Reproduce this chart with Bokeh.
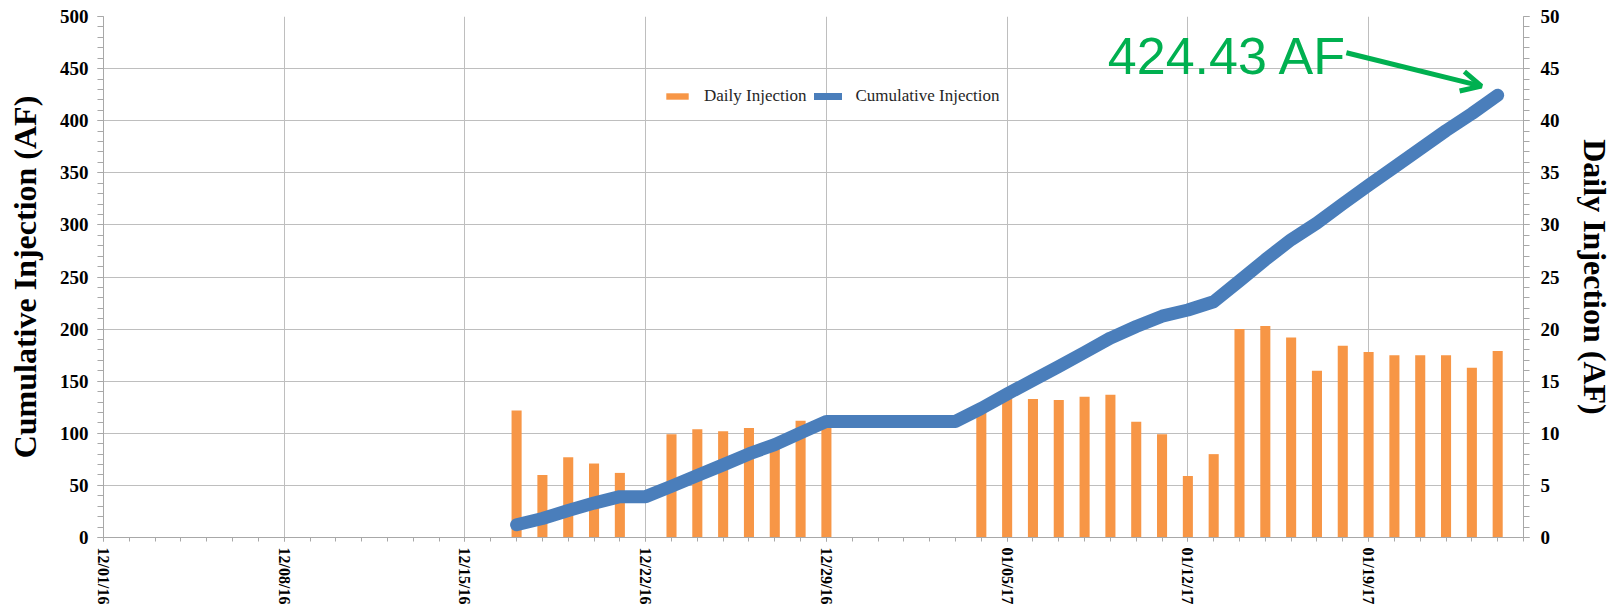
import math
from datetime import datetime, timedelta
import pandas as pd
from bokeh.plotting import figure
from bokeh.models import (Range1d, LinearAxis, FixedTicker, SingleIntervalTicker,
                          DatetimeTickFormatter, Legend, LegendItem, Label, Arrow, OpenHead)
from bokeh.embed import file_html
from bokeh.resources import INLINE

# ---------------- data ----------------
daily_dates = ["2016-12-17", "2016-12-18", "2016-12-19", "2016-12-20", "2016-12-21",
               "2016-12-23", "2016-12-24", "2016-12-25", "2016-12-26", "2016-12-27",
               "2016-12-28", "2016-12-29",
               "2017-01-04", "2017-01-05", "2017-01-06", "2017-01-07", "2017-01-08",
               "2017-01-09", "2017-01-10", "2017-01-11", "2017-01-12", "2017-01-13",
               "2017-01-14", "2017-01-15", "2017-01-16", "2017-01-17", "2017-01-18",
               "2017-01-19", "2017-01-20", "2017-01-21", "2017-01-22", "2017-01-23",
               "2017-01-24"]
daily_values = [12.2, 6.0, 7.7, 7.1, 6.2,
                9.9, 10.4, 10.2, 10.5, 9.0, 11.2, 11.0,
                12.5, 13.8, 13.3, 13.2, 13.5, 13.7, 11.1, 9.9, 5.9, 8.0,
                20.0, 20.3, 19.2, 16.0, 18.4, 17.8, 17.5, 17.5, 17.5, 16.3, 17.9]

cum_dates = ["2016-12-17", "2016-12-18", "2016-12-19", "2016-12-20", "2016-12-21",
             "2016-12-22", "2016-12-23", "2016-12-24", "2016-12-25", "2016-12-26",
             "2016-12-27", "2016-12-28", "2016-12-29", "2016-12-30", "2016-12-31",
             "2017-01-01", "2017-01-02", "2017-01-03", "2017-01-04", "2017-01-05",
             "2017-01-06", "2017-01-07", "2017-01-08", "2017-01-09", "2017-01-10",
             "2017-01-11", "2017-01-12", "2017-01-13", "2017-01-14", "2017-01-15",
             "2017-01-16", "2017-01-17", "2017-01-18", "2017-01-19", "2017-01-20",
             "2017-01-21", "2017-01-22", "2017-01-23", "2017-01-24"]
cum_values = [12.2, 18.2, 25.9, 33.0, 39.2,
              39.2, 49.1, 59.5, 69.7, 80.2,
              89.2, 100.4, 111.4, 111.4, 111.4,
              111.4, 111.4, 111.4, 123.9, 137.7,
              151.0, 164.2, 177.7, 191.4, 202.5,
              212.4, 218.3, 226.3, 246.3, 266.6,
              285.8, 301.8, 320.2, 338.0, 355.5,
              373.0, 390.5, 406.8, 424.43]

x_tick_dates = ["2016-12-01", "2016-12-08", "2016-12-15", "2016-12-22", "2016-12-29",
                "2017-01-05", "2017-01-12", "2017-01-19"]
x_start, x_end = "2016-12-01", "2017-01-25"
annotation_text = "424.43 AF"

# ---------------- helpers ----------------
def ms(d):
    return pd.Timestamp(d).value / 1e6

DAY = 86400000.0
BLUE = "#4A7EBB"
ORANGE = "#F79646"
GREEN = "#00B050"
GRID = "#BEBEBE"
AXIS = "#A8A8A8"
SERIF = "Liberation Serif"

x0, x1 = ms(x_start), ms(x_end)

p = figure(frame_width=1420, frame_height=521,
           min_border_left=103, min_border_right=89, min_border_top=16, min_border_bottom=76,
           x_axis_type="datetime",
           x_range=Range1d(x0, x1), y_range=Range1d(0, 500),
           output_backend="svg", toolbar_location=None)
p.extra_y_ranges = {"daily": Range1d(0, 50)}
p.outline_line_color = None
p.background_fill_color = "white"
p.border_fill_color = "white"

# bars (daily, right axis)
bars = p.vbar(x=[pd.Timestamp(d) for d in daily_dates], top=daily_values,
              width=0.39 * DAY, bottom=0, y_range_name="daily",
              fill_color=ORANGE, line_color=None)

# cumulative line (left axis)
line = p.line(x=[pd.Timestamp(d) for d in cum_dates], y=cum_values,
              line_width=13, line_color=BLUE, line_cap="round", line_join="round")

# legend proxy (not drawn in the plot) for a thinner line sample
legend_line = p.line(x=[x0, x0], y=[float("nan"), float("nan")], line_width=7,
                     line_color=BLUE, line_cap="round")

# ---- x axis ----
xa = p.xaxis[0]
xa.ticker = FixedTicker(ticks=[ms(d) for d in x_tick_dates],
                        minor_ticks=[x0 + i * DAY for i in range(int(round((x1 - x0) / DAY)) + 1)])
fmt = "%m/%d/%y"
xa.formatter = DatetimeTickFormatter(days=fmt, months=fmt, years=fmt, hours=fmt,
                                     hourmin=fmt, minutes=fmt)
xa.major_label_orientation = -math.pi / 2
xa.major_label_text_font = SERIF
xa.major_label_text_font_style = "bold"
xa.major_label_text_font_size = "16px"
xa.major_label_text_color = "black"
xa.major_label_standoff = 6
xa.axis_line_color = AXIS
xa.major_tick_line_color = AXIS
xa.minor_tick_line_color = AXIS
xa.major_tick_in = 0
xa.major_tick_out = 4
xa.minor_tick_in = 0
xa.minor_tick_out = 4

# ---- left axis ----
ya = p.yaxis[0]
ya.ticker = SingleIntervalTicker(interval=50, num_minor_ticks=5)
ya.axis_label = "Cumulative Injection (AF)"

# ---- right axis ----
ra = LinearAxis(y_range_name="daily", axis_label="Daily Injection (AF)",
                ticker=SingleIntervalTicker(interval=5, num_minor_ticks=5))
p.add_layout(ra, "right")

for ax, standoff in ((ya, 9), (ra, 11)):
    ax.major_label_text_font = SERIF
    ax.major_label_text_font_style = "bold"
    ax.major_label_text_font_size = "19px"
    ax.major_label_text_color = "black"
    ax.major_label_standoff = standoff
    ax.axis_label_text_font = SERIF
    ax.axis_label_text_font_style = "bold"
    ax.axis_label_text_font_size = "32px"
    ax.axis_label_text_color = "black"
    ax.axis_label_standoff = 14
    ax.axis_line_color = AXIS
    ax.major_tick_line_color = AXIS
    ax.minor_tick_line_color = AXIS
    ax.major_tick_in = 0
    ax.major_tick_out = 6
    ax.minor_tick_in = 0
    ax.minor_tick_out = 6

# ---- grid ----
p.xgrid.ticker = FixedTicker(ticks=[ms(d) for d in x_tick_dates])
p.xgrid.grid_line_color = GRID
p.ygrid.grid_line_color = GRID
p.xgrid.grid_line_width = 1
p.ygrid.grid_line_width = 1

# ---- legend ----
legend = Legend(items=[LegendItem(label="Daily Injection", renderers=[bars]),
                       LegendItem(label="Cumulative Injection", renderers=[legend_line])],
                orientation="horizontal", location=(560, 431),
                padding=0, margin=0, spacing=8, label_standoff=13,
                glyph_width=28, glyph_height=8,
                label_text_font=SERIF, label_text_font_size="17px",
                label_text_color="#262626",
                border_line_color=None, background_fill_alpha=0)
p.add_layout(legend)

# ---- annotation ----
last_x = pd.Timestamp(cum_dates[-1])
last_y = cum_values[-1]
text_x = ms(last_x - timedelta(days=15.1))
text_y = last_y + 37.5
arrow_start = (ms(last_x - timedelta(days=5.86)), last_y + 40.8)
arrow_end = (ms(last_x - timedelta(days=0.63)), last_y + 8.8)

p.add_layout(Label(x=text_x, y=text_y, text=annotation_text,
                   text_font="Liberation Sans", text_font_size="52px",
                   text_color=GREEN, text_baseline="alphabetic", text_align="left"))
p.add_layout(Arrow(x_start=arrow_start[0], y_start=arrow_start[1],
                   x_end=arrow_end[0], y_end=arrow_end[1],
                   line_color=GREEN, line_width=5,
                   end=OpenHead(size=20, line_color=GREEN, line_width=5)))

open("out.html", "w").write(file_html(p, INLINE))
